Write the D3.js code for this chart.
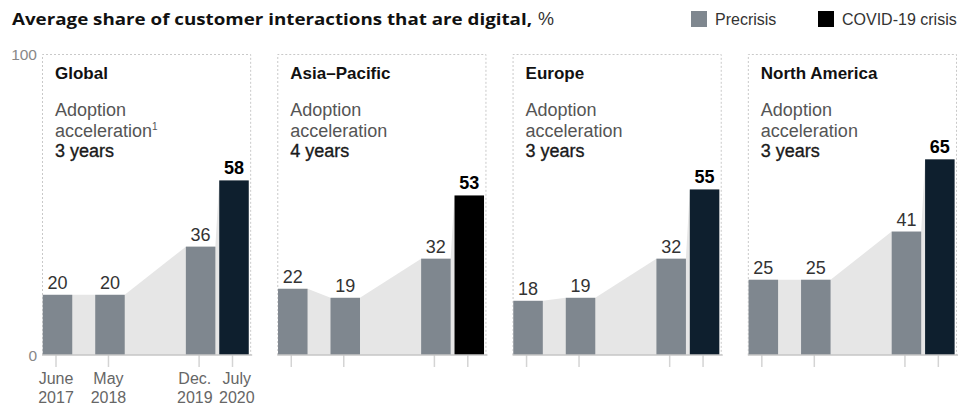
<!DOCTYPE html>
<html>
<head>
<meta charset="utf-8">
<script src="https://cdn.jsdelivr.net/npm/d3@7"></script>
<style>
  html, body { margin: 0; padding: 0; background: #fff; }
  svg { display: block; font-family: "Liberation Sans", Arial, sans-serif; }
</style>
</head>
<body>
<svg id="chart" width="959" height="405"></svg>
<script>
// ---- data ----
const regions = ["Global", "Asia\u2013Pacific", "Europe", "North America"];
const accelerationYears = ["3 years", "4 years", "3 years", "3 years"];
const periods = ["June 2017", "May 2018", "Dec. 2019", "July 2020"];
const periodMonths = [0, 11, 30, 37]; // months since June 2017
const periodLabelLine1 = ["June", "May", "Dec.", "July"];
const periodLabelLine2 = ["2017", "2018", "2019", "2020"];
const globalValues = [20, 20, 36, 58];
const asiaPacificValues = [22, 19, 32, 53];
const europeValues = [18, 19, 32, 55];
const northAmericaValues = [25, 25, 41, 65];
const seriesValues = [globalValues, asiaPacificValues, europeValues, northAmericaValues];
const covidColors = ["#0e1f2e", "#000000", "#0e1f2e", "#0e1f2e"];
const yTicks = [0, 100];
const legendItems = ["Precrisis", "COVID-19 crisis"];

// ---- styles ----
const precrisisColor = "#7f878f";
const areaColor = "#e6e6e6";

const svg = d3.select("#chart");

// Title
const titleMain = svg.append("text").attr("x", 12).attr("y", 25)
  .attr("font-family", "'Open Sans', 'Liberation Sans', sans-serif")
  .attr("font-size", 16.5).attr("font-weight", "bold").attr("fill", "#111")
  .text("Average share of customer interactions that are digital,");
titleMain.attr("textLength", 520).attr("lengthAdjust", "spacingAndGlyphs");
svg.append("text").attr("x", 538).attr("y", 25)
  .attr("font-size", 18).attr("fill", "#333").text("%");

// Legend
const legendX = [691, 818];
const legendColors = [precrisisColor, "#000"];
legendItems.forEach((t, i) => {
  svg.append("rect").attr("x", legendX[i]).attr("y", 11).attr("width", 16).attr("height", 16)
    .attr("fill", legendColors[i]);
  svg.append("text").attr("x", legendX[i] + 24).attr("y", 25).attr("font-size", 16)
    .attr("fill", "#333").text(t);
});

// scales
const panel = d3.scaleBand().domain(regions).range([42, 957]).paddingInner(0.111).paddingOuter(0);
const y = d3.scaleLinear().domain([0, 100]).range([355, 54]);
const xm = d3.scaleLinear().domain([0, 37]).range([15.5, 192]);
const barW = 29.5;

// y axis labels
yTicks.forEach(t => {
  svg.append("text").attr("x", 37).attr("y", y(t) + 6).attr("text-anchor", "end")
    .attr("font-size", 15.5).attr("fill", "#888").text(t);
});

// x label positions: tick positions, nudged apart when too close
const labelMinGap = 42;
const labelX = periodMonths.map(m => xm(m) - 1.5);
for (let i = 1; i < labelX.length; i++) {
  const d = labelX[i] - labelX[i - 1];
  if (d < labelMinGap) {
    const s = (labelMinGap - d) / 2;
    labelX[i - 1] -= s;
    labelX[i] += s;
  }
}

regions.forEach((r, ri) => {
  const x0 = panel(r);
  const w = panel.bandwidth();
  const g = svg.append("g").attr("transform", `translate(${x0},0)`);
  const vals = seriesValues[ri];

  // dashed frame
  g.append("path")
    .attr("d", `M0.5,${y(0)}V${y(100) + 0.5}H${w - 0.5}V${y(0)}`)
    .attr("fill", "none").attr("stroke", "#c9c9c9").attr("stroke-width", 1)
    .attr("stroke-dasharray", "2,2");

  // area between bars
  const pts = [];
  vals.forEach((v, i) => {
    const cx = xm(periodMonths[i]);
    pts.push([cx - barW / 2, v]);
    pts.push([cx + barW / 2, v]);
  });
  const area = d3.area().x(d => d[0]).y0(y(0)).y1(d => y(d[1]));
  g.append("path").attr("d", area(pts)).attr("fill", areaColor);

  // bars
  vals.forEach((v, i) => {
    const cx = xm(periodMonths[i]);
    const last = i === vals.length - 1;
    g.append("rect")
      .attr("x", cx - barW / 2).attr("width", barW)
      .attr("y", y(v)).attr("height", y(0) - y(v))
      .attr("fill", last ? covidColors[ri] : precrisisColor);
    g.append("text")
      .attr("x", cx).attr("y", y(v) - 6).attr("text-anchor", "middle")
      .attr("font-size", 18)
      .attr("font-weight", last ? "bold" : "normal")
      .attr("fill", last ? "#000" : "#333")
      .text(v);
    // tick
    g.append("line").attr("x1", cx - 1.5).attr("x2", cx - 1.5)
      .attr("y1", y(0)).attr("y2", y(0) + 12)
      .attr("stroke", "#d4d4d4").attr("stroke-width", 1.5);
  });

  // baseline
  g.append("line").attr("x1", 0).attr("x2", w + 1).attr("y1", y(0)).attr("y2", y(0))
    .attr("stroke", "#c6c6c6").attr("stroke-width", 1.5);

  // panel texts
  g.append("text").attr("x", 13).attr("y", 79).attr("font-size", 17)
    .attr("font-weight", "bold").attr("fill", "#111").text(r);
  g.append("text").attr("x", 13).attr("y", 116).attr("font-size", 18)
    .attr("fill", "#555").text("Adoption");
  const acc = g.append("text").attr("x", 13).attr("y", 137).attr("font-size", 18)
    .attr("fill", "#555").text("acceleration");
  if (ri === 0) acc.append("tspan").attr("font-size", 10).attr("dy", -7).text("1");
  g.append("text").attr("x", 13).attr("y", 157).attr("font-size", 18)
    .attr("fill", "#1a1a1a").attr("stroke", "#1a1a1a").attr("stroke-width", 0.35)
    .text(accelerationYears[ri]);

  // x labels only in first panel
  if (ri === 0) {
    periods.forEach((p, i) => {
      g.append("text").attr("x", labelX[i]).attr("y", 384).attr("text-anchor", "middle")
        .attr("font-size", 16).attr("fill", "#666").text(periodLabelLine1[i]);
      g.append("text").attr("x", labelX[i]).attr("y", 403).attr("text-anchor", "middle")
        .attr("font-size", 16).attr("fill", "#666").text(periodLabelLine2[i]);
    });
  }
});
</script>
</body>
</html>
